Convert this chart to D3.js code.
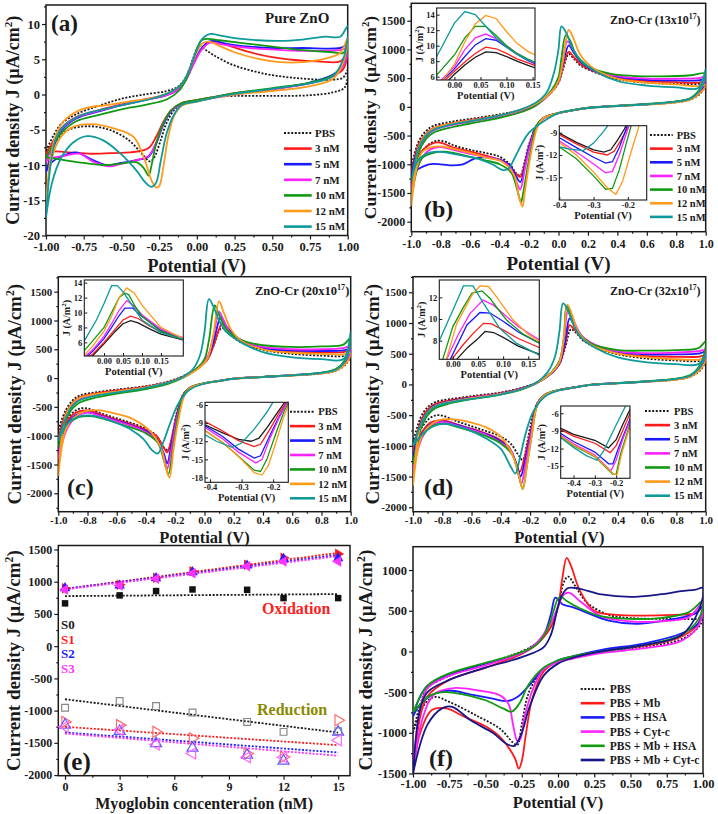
<!DOCTYPE html>
<html><head><meta charset="utf-8">
<script src="https://cdn.jsdelivr.net/npm/d3@7"></script>
<style>
body{margin:0;background:#fff;}
svg text{font-family:"Liberation Serif","Times New Roman",serif;font-weight:bold;fill:#1a1a1a;}
</style></head><body>
<svg id="chart" width="718" height="814"></svg>
<script>
// ---------------- DATA ----------------
const concNames = ["PBS","3 nM","5 nM","7 nM","10 nM","12 nM","15 nM"];
const fNames = ["PBS","PBS + Mb","PBS + HSA","PBS + Cyt-c","PBS + Mb + HSA","PBS + Mb + Cyt-c"];

// tick values
const aXTicks=[-1,-0.75,-0.5,-0.25,0,0.25,0.5,0.75,1];
const aYTicks=[-20,-15,-10,-5,0,5,10];
const cvXTicks=[-1,-0.8,-0.6,-0.4,-0.2,0,0.2,0.4,0.6,0.8,1];
const cvYTicks=[-2000,-1500,-1000,-500,0,500,1000,1500];
const eXTicks=[0,3,6,9,12,15];
const fYTicks=[-1500,-1000,-500,0,500,1000];
const insTopX=[0,0.05,0.1,0.15];
const insBotX=[-0.4,-0.3,-0.2];

// Panel (a): Pure ZnO, closed CV loops [potential V, J uA/cm2]
const aLoops=[
[[-1,-8],[-0.95,-5.8],[-0.9,-4.2],[-0.8,-2.8],[-0.65,-1.6],[-0.5,-0.6],[-0.35,0],[-0.2,0.5],[-0.12,1.2],[-0.07,2.6],[-0.03,4.8],[0,6.5],[0.02,6.9],[0.06,6.3],[0.11,5.6],[0.24,4.2],[0.46,2.9],[0.68,2.3],[0.9,2.1],[0.97,2.4],[1,3.5],[0.98,1.0],[0.9,0.3],[0.75,-0.1],[0.5,-0.2],[0.25,-0.2],[0.1,-0.4],[0,-0.8],[-0.1,-1.3],[-0.15,-2.2],[-0.2,-4],[-0.24,-6.5],[-0.28,-8.8],[-0.31,-9.5],[-0.36,-8.5],[-0.45,-6.5],[-0.58,-5],[-0.72,-4.5],[-0.85,-5],[-0.93,-6.5],[-1,-8]],
[[-1,-8.5],[-0.95,-6.5],[-0.9,-4.8],[-0.8,-3.2],[-0.65,-2.2],[-0.5,-1.4],[-0.35,-0.7],[-0.2,0],[-0.12,0.8],[-0.07,2.2],[-0.02,4.5],[0.03,6.5],[0.08,7.4],[0.12,7.5],[0.2,7],[0.35,6],[0.5,5.3],[0.65,4.9],[0.8,4.7],[0.95,4.7],[1,6],[0.97,3.6],[0.9,2.6],[0.75,1.6],[0.5,0.8],[0.25,0.2],[0.1,-0.4],[0,-0.8],[-0.1,-1.2],[-0.17,-2.2],[-0.22,-3.8],[-0.27,-6],[-0.32,-7.6],[-0.4,-8.1],[-0.55,-8.3],[-0.7,-8.4],[-0.85,-8.2],[-0.95,-8.1],[-1,-8.5]],
[[-1,-11],[-0.95,-7.5],[-0.9,-5.2],[-0.8,-3.4],[-0.65,-2.4],[-0.5,-1.5],[-0.35,-0.8],[-0.2,-0.1],[-0.12,0.8],[-0.07,2.2],[-0.02,4.5],[0.03,6.5],[0.08,7.5],[0.12,7.6],[0.2,7.2],[0.35,6.8],[0.5,6.6],[0.7,6.6],[0.95,6.6],[1,7],[0.97,4.2],[0.9,2.8],[0.75,1.7],[0.5,0.8],[0.25,0.1],[0.1,-0.5],[0,-0.9],[-0.1,-1.3],[-0.17,-2.4],[-0.22,-4.2],[-0.27,-7],[-0.32,-8.8],[-0.4,-9.3],[-0.5,-9.7],[-0.6,-10],[-0.7,-9.2],[-0.8,-8.2],[-0.9,-8.8],[-0.97,-9.8],[-1,-11]],
[[-1,-9.5],[-0.95,-7],[-0.9,-5],[-0.8,-3.3],[-0.65,-2.3],[-0.5,-1.5],[-0.35,-0.8],[-0.2,-0.1],[-0.12,0.8],[-0.07,2.2],[-0.02,4.4],[0.03,6.3],[0.08,7.3],[0.12,7.3],[0.2,7],[0.35,6.6],[0.5,6.4],[0.7,6.2],[0.95,6.3],[1,6.6],[0.97,4],[0.9,2.6],[0.75,1.6],[0.5,0.7],[0.25,0],[0.1,-0.5],[0,-0.9],[-0.1,-1.3],[-0.17,-2.3],[-0.22,-4],[-0.27,-6.8],[-0.32,-8.7],[-0.4,-9.3],[-0.5,-9.8],[-0.58,-10.2],[-0.68,-9.6],[-0.78,-8.4],[-0.88,-8.7],[-0.96,-9],[-1,-9.5]],
[[-1,-9],[-0.95,-7],[-0.9,-5.5],[-0.8,-3.8],[-0.65,-2.9],[-0.5,-2.1],[-0.35,-1.5],[-0.2,-0.7],[-0.12,0.5],[-0.07,2.2],[-0.03,4.5],[0,6.5],[0.03,7.7],[0.07,7.9],[0.15,7.7],[0.3,7.3],[0.5,6.8],[0.7,6.3],[0.9,6],[0.97,5.9],[1,7],[0.97,4.5],[0.9,2.7],[0.75,1.7],[0.5,0.9],[0.25,0.2],[0.1,-0.4],[0,-0.8],[-0.1,-1.2],[-0.17,-2.2],[-0.22,-4],[-0.27,-7],[-0.3,-10],[-0.32,-11.5],[-0.35,-10.5],[-0.4,-9.6],[-0.5,-9.8],[-0.62,-10],[-0.75,-9.7],[-0.88,-9.3],[-0.97,-9],[-1,-9]],
[[-1,-15.8],[-0.97,-9],[-0.93,-5.5],[-0.87,-3.5],[-0.75,-2],[-0.6,-1.5],[-0.45,-1],[-0.3,-0.5],[-0.18,0.3],[-0.1,1.5],[-0.05,3.5],[0,6],[0.04,7.3],[0.08,7.5],[0.15,6.9],[0.25,6],[0.4,5.1],[0.55,4.6],[0.7,4.6],[0.85,5.1],[0.95,5.9],[1,8],[0.97,4.5],[0.9,2.2],[0.75,1.2],[0.5,0.5],[0.25,0],[0.1,-0.5],[0,-1],[-0.1,-1.6],[-0.15,-3],[-0.19,-6],[-0.22,-10],[-0.25,-13],[-0.27,-13.2],[-0.3,-12.2],[-0.35,-9],[-0.42,-6],[-0.55,-4.8],[-0.7,-4.2],[-0.82,-4.6],[-0.9,-6],[-0.96,-9],[-1,-15.8]],
[[-1,-17.5],[-0.97,-10],[-0.93,-6],[-0.87,-4.2],[-0.75,-2.8],[-0.6,-2],[-0.45,-1.3],[-0.3,-0.6],[-0.18,0.3],[-0.1,1.5],[-0.05,3.5],[0,6.3],[0.04,8],[0.09,8.6],[0.15,8.4],[0.25,8],[0.4,7.7],[0.55,7.6],[0.7,7.8],[0.85,8.2],[0.95,8.2],[1,9.7],[0.97,5],[0.9,2.6],[0.75,1.6],[0.5,0.8],[0.25,0.1],[0.1,-0.5],[0,-1],[-0.1,-1.5],[-0.15,-2.8],[-0.2,-5.5],[-0.24,-9.5],[-0.27,-12.5],[-0.3,-13.1],[-0.34,-12.5],[-0.4,-10.8],[-0.5,-8.5],[-0.62,-6.5],[-0.73,-5.9],[-0.82,-6.8],[-0.9,-9],[-0.96,-12.5],[-1,-17.5]]
];

// Panel (b): ZnO-Cr 13x10^17
const bLoops=[
[[-1,-1050],[-0.95,-600],[-0.9,-420],[-0.85,-330],[-0.75,-270],[-0.6,-210],[-0.4,-130],[-0.25,-50],[-0.15,50],[-0.05,250],[0,420],[0.03,650],[0.07,920],[0.1,850],[0.15,720],[0.25,600],[0.4,480],[0.6,420],[0.8,400],[0.95,400],[1,420],[0.97,250],[0.9,130],[0.8,80],[0.6,40],[0.4,15],[0.2,-20],[0.1,-60],[0,-110],[-0.1,-190],[-0.15,-330],[-0.2,-650],[-0.23,-950],[-0.26,-1200],[-0.29,-1150],[-0.33,-1000],[-0.4,-870],[-0.5,-800],[-0.6,-750],[-0.7,-680],[-0.8,-590],[-0.86,-620],[-0.92,-750],[-1,-1050]],
[[-1,-1150],[-0.95,-650],[-0.9,-470],[-0.85,-370],[-0.75,-300],[-0.6,-230],[-0.4,-150],[-0.25,-60],[-0.15,40],[-0.05,250],[0,430],[0.03,700],[0.07,960],[0.1,880],[0.15,740],[0.25,610],[0.4,500],[0.6,450],[0.8,430],[0.95,420],[1,450],[0.97,280],[0.9,140],[0.8,85],[0.6,45],[0.4,18],[0.2,-18],[0.1,-58],[0,-108],[-0.1,-190],[-0.15,-330],[-0.2,-680],[-0.23,-1000],[-0.26,-1220],[-0.3,-1130],[-0.35,-980],[-0.45,-880],[-0.55,-810],[-0.7,-720],[-0.82,-620],[-0.9,-700],[-0.95,-850],[-1,-1150]],
[[-1,-1200],[-0.95,-700],[-0.9,-490],[-0.85,-390],[-0.75,-310],[-0.6,-240],[-0.4,-160],[-0.25,-70],[-0.15,40],[-0.05,260],[0,450],[0.03,750],[0.07,1070],[0.1,960],[0.15,780],[0.25,620],[0.4,520],[0.6,470],[0.8,460],[0.95,460],[1,480],[0.97,300],[0.9,150],[0.8,90],[0.6,45],[0.4,18],[0.2,-18],[0.1,-58],[0,-110],[-0.1,-195],[-0.15,-340],[-0.2,-700],[-0.23,-1050],[-0.26,-1310],[-0.29,-1200],[-0.33,-1020],[-0.4,-920],[-0.5,-880],[-0.57,-900],[-0.65,-1000],[-0.72,-1020],[-0.8,-1000],[-0.88,-1000],[-0.95,-1080],[-1,-1200]],
[[-1,-1450],[-0.95,-750],[-0.9,-520],[-0.85,-410],[-0.75,-330],[-0.6,-260],[-0.4,-170],[-0.25,-80],[-0.15,30],[-0.05,250],[0,460],[0.03,800],[0.06,1140],[0.1,1000],[0.15,800],[0.25,640],[0.4,540],[0.6,490],[0.8,490],[0.95,500],[1,520],[0.97,320],[0.9,150],[0.8,90],[0.6,45],[0.4,18],[0.2,-18],[0.1,-58],[0,-110],[-0.1,-200],[-0.15,-350],[-0.2,-750],[-0.23,-1100],[-0.26,-1440],[-0.29,-1280],[-0.33,-1050],[-0.4,-930],[-0.5,-870],[-0.6,-820],[-0.7,-760],[-0.8,-700],[-0.87,-740],[-0.93,-900],[-1,-1450]],
[[-1,-1600],[-0.95,-800],[-0.9,-560],[-0.85,-450],[-0.75,-370],[-0.6,-290],[-0.4,-190],[-0.25,-90],[-0.15,30],[-0.05,280],[0,520],[0.02,850],[0.05,1250],[0.08,1150],[0.12,900],[0.2,700],[0.35,580],[0.5,540],[0.7,530],[0.9,550],[1,580],[0.97,350],[0.9,160],[0.8,95],[0.6,50],[0.4,20],[0.2,-15],[0.1,-55],[0,-105],[-0.1,-190],[-0.15,-330],[-0.18,-650],[-0.21,-1050],[-0.24,-1500],[-0.255,-1660],[-0.28,-1450],[-0.32,-1150],[-0.4,-1000],[-0.5,-930],[-0.6,-870],[-0.7,-810],[-0.78,-780],[-0.85,-800],[-0.93,-900],[-1,-1600]],
[[-1,-1720],[-0.95,-700],[-0.9,-480],[-0.85,-380],[-0.75,-300],[-0.6,-240],[-0.4,-150],[-0.25,-50],[-0.15,60],[-0.05,250],[0,450],[0.03,800],[0.07,1340],[0.1,1200],[0.15,900],[0.25,650],[0.4,490],[0.6,420],[0.8,390],[0.95,360],[1,380],[0.97,260],[0.9,130],[0.8,80],[0.6,40],[0.4,15],[0.2,-20],[0.1,-60],[0,-110],[-0.1,-190],[-0.14,-330],[-0.17,-600],[-0.2,-1000],[-0.23,-1500],[-0.245,-1740],[-0.27,-1550],[-0.3,-1200],[-0.38,-960],[-0.5,-880],[-0.6,-800],[-0.7,-740],[-0.8,-690],[-0.86,-700],[-0.93,-800],[-1,-1720]],
[[-1,-1300],[-0.95,-720],[-0.9,-500],[-0.85,-400],[-0.75,-320],[-0.6,-250],[-0.4,-150],[-0.25,-40],[-0.15,80],[-0.08,250],[-0.03,600],[0,1000],[0.02,1400],[0.05,1300],[0.1,1000],[0.15,820],[0.25,620],[0.4,450],[0.6,370],[0.8,340],[0.95,330],[1,650],[0.97,330],[0.9,150],[0.8,90],[0.6,45],[0.4,15],[0.2,-20],[0.1,-60],[0,-110],[-0.1,-250],[-0.2,-450],[-0.25,-650],[-0.3,-900],[-0.34,-1080],[-0.38,-1100],[-0.45,-1000],[-0.55,-900],[-0.65,-850],[-0.75,-800],[-0.83,-780],[-0.9,-820],[-0.96,-950],[-1,-1300]]
];

// Panel (c): ZnO-Cr 20x10^17
const cLoops=[
[[-1,-900],[-0.95,-560],[-0.9,-380],[-0.85,-300],[-0.75,-250],[-0.6,-200],[-0.4,-140],[-0.25,-60],[-0.15,30],[-0.05,170],[0.02,330],[0.06,550],[0.1,820],[0.12,870],[0.16,780],[0.25,620],[0.4,490],[0.6,420],[0.8,390],[0.95,380],[1,420],[0.97,250],[0.9,130],[0.8,80],[0.6,45],[0.4,20],[0.2,-10],[0.1,-50],[0,-90],[-0.1,-170],[-0.15,-300],[-0.19,-600],[-0.22,-1000],[-0.25,-1250],[-0.28,-1200],[-0.33,-1000],[-0.4,-880],[-0.5,-780],[-0.6,-700],[-0.7,-620],[-0.82,-520],[-0.88,-560],[-0.94,-700],[-1,-900]],
[[-1,-1050],[-0.95,-620],[-0.9,-420],[-0.85,-330],[-0.75,-270],[-0.6,-215],[-0.4,-150],[-0.25,-70],[-0.15,20],[-0.05,160],[0.02,320],[0.06,550],[0.1,850],[0.12,950],[0.16,830],[0.25,640],[0.4,510],[0.6,460],[0.8,450],[0.95,450],[1,480],[0.97,280],[0.9,140],[0.8,85],[0.6,48],[0.4,20],[0.2,-10],[0.1,-50],[0,-90],[-0.1,-170],[-0.15,-310],[-0.2,-750],[-0.23,-1100],[-0.255,-1290],[-0.28,-1200],[-0.33,-1000],[-0.4,-900],[-0.5,-800],[-0.6,-720],[-0.7,-640],[-0.8,-560],[-0.88,-600],[-0.94,-750],[-1,-1050]],
[[-1,-1250],[-0.95,-680],[-0.9,-460],[-0.85,-360],[-0.75,-290],[-0.6,-230],[-0.4,-160],[-0.25,-80],[-0.15,10],[-0.05,160],[0.02,340],[0.06,620],[0.1,1000],[0.115,1060],[0.15,900],[0.25,660],[0.4,520],[0.6,480],[0.8,470],[0.95,480],[1,510],[0.97,300],[0.9,145],[0.8,88],[0.6,50],[0.4,20],[0.2,-10],[0.1,-50],[0,-90],[-0.1,-170],[-0.15,-320],[-0.2,-800],[-0.23,-1200],[-0.255,-1480],[-0.28,-1300],[-0.33,-1050],[-0.4,-920],[-0.5,-820],[-0.6,-740],[-0.7,-660],[-0.8,-590],[-0.88,-640],[-0.94,-800],[-1,-1250]],
[[-1,-1400],[-0.95,-720],[-0.9,-480],[-0.85,-370],[-0.75,-300],[-0.6,-240],[-0.4,-165],[-0.25,-85],[-0.15,10],[-0.05,170],[0.02,370],[0.06,720],[0.1,1150],[0.13,1000],[0.18,780],[0.25,660],[0.4,540],[0.6,500],[0.8,500],[0.95,520],[1,550],[0.97,320],[0.9,150],[0.8,90],[0.6,50],[0.4,20],[0.2,-10],[0.1,-50],[0,-90],[-0.1,-170],[-0.15,-330],[-0.2,-850],[-0.23,-1300],[-0.255,-1570],[-0.28,-1350],[-0.33,-1070],[-0.4,-940],[-0.5,-830],[-0.6,-750],[-0.7,-670],[-0.8,-600],[-0.88,-680],[-0.94,-880],[-1,-1400]],
[[-1,-1200],[-0.95,-740],[-0.9,-520],[-0.85,-420],[-0.75,-340],[-0.6,-270],[-0.4,-190],[-0.25,-100],[-0.15,0],[-0.05,170],[0,330],[0.03,650],[0.07,1260],[0.1,1100],[0.15,850],[0.25,660],[0.4,570],[0.6,540],[0.8,550],[0.95,580],[1,700],[0.97,360],[0.9,160],[0.8,95],[0.6,52],[0.4,22],[0.2,-8],[0.1,-48],[0,-88],[-0.1,-170],[-0.15,-330],[-0.19,-800],[-0.22,-1300],[-0.247,-1670],[-0.275,-1450],[-0.32,-1120],[-0.4,-960],[-0.5,-860],[-0.6,-780],[-0.7,-700],[-0.78,-660],[-0.86,-680],[-0.94,-820],[-1,-1200]],
[[-1,-1700],[-0.95,-650],[-0.9,-430],[-0.85,-340],[-0.75,-280],[-0.6,-230],[-0.4,-160],[-0.25,-80],[-0.15,10],[-0.05,150],[0.02,340],[0.06,750],[0.1,1330],[0.13,1150],[0.18,850],[0.25,650],[0.4,500],[0.6,440],[0.8,420],[0.95,410],[1,430],[0.97,260],[0.9,130],[0.8,80],[0.6,45],[0.4,18],[0.2,-12],[0.1,-52],[0,-92],[-0.1,-170],[-0.14,-320],[-0.18,-750],[-0.21,-1200],[-0.24,-1730],[-0.265,-1550],[-0.3,-1200],[-0.38,-900],[-0.5,-700],[-0.6,-620],[-0.72,-560],[-0.82,-580],[-0.9,-700],[-0.95,-900],[-1,-1700]],
[[-1,-1100],[-0.95,-700],[-0.9,-470],[-0.85,-380],[-0.75,-310],[-0.6,-250],[-0.4,-170],[-0.25,-80],[-0.15,20],[-0.08,150],[-0.03,400],[0,800],[0.03,1370],[0.06,1250],[0.1,1000],[0.15,800],[0.25,620],[0.4,450],[0.6,360],[0.8,330],[0.95,330],[1,800],[0.97,330],[0.9,150],[0.8,90],[0.6,48],[0.4,18],[0.2,-12],[0.1,-52],[0,-95],[-0.1,-200],[-0.18,-450],[-0.23,-750],[-0.28,-1100],[-0.32,-1310],[-0.36,-1250],[-0.42,-1050],[-0.5,-900],[-0.6,-780],[-0.7,-690],[-0.78,-650],[-0.86,-670],[-0.94,-800],[-1,-1100]]
];

// Panel (d): ZnO-Cr 32x10^17
const dLoops=[
[[-1,-950],[-0.95,-550],[-0.9,-370],[-0.85,-290],[-0.75,-240],[-0.6,-190],[-0.4,-130],[-0.25,-50],[-0.15,40],[-0.05,200],[0,330],[0.04,600],[0.08,900],[0.11,850],[0.16,720],[0.25,600],[0.4,490],[0.6,420],[0.8,390],[0.95,380],[1,420],[0.97,250],[0.9,130],[0.8,80],[0.6,45],[0.4,20],[0.2,-10],[0.1,-50],[0,-90],[-0.1,-170],[-0.15,-300],[-0.19,-600],[-0.22,-950],[-0.25,-1230],[-0.28,-1150],[-0.33,-970],[-0.4,-850],[-0.5,-760],[-0.6,-680],[-0.7,-600],[-0.82,-500],[-0.88,-540],[-0.94,-700],[-1,-950]],
[[-1,-1100],[-0.95,-620],[-0.9,-410],[-0.85,-320],[-0.75,-260],[-0.6,-205],[-0.4,-140],[-0.25,-60],[-0.15,30],[-0.05,190],[0,330],[0.04,640],[0.07,965],[0.1,900],[0.16,740],[0.25,610],[0.4,510],[0.6,460],[0.8,450],[0.95,450],[1,470],[0.97,280],[0.9,140],[0.8,85],[0.6,48],[0.4,20],[0.2,-10],[0.1,-50],[0,-90],[-0.1,-170],[-0.15,-310],[-0.2,-800],[-0.24,-1200],[-0.27,-1420],[-0.3,-1250],[-0.35,-1000],[-0.42,-880],[-0.5,-800],[-0.6,-720],[-0.7,-650],[-0.8,-580],[-0.88,-620],[-0.94,-780],[-1,-1100]],
[[-1,-1200],[-0.95,-660],[-0.9,-440],[-0.85,-340],[-0.75,-275],[-0.6,-215],[-0.4,-150],[-0.25,-65],[-0.15,30],[-0.05,190],[0,340],[0.04,700],[0.07,1075],[0.1,980],[0.16,770],[0.25,630],[0.4,530],[0.6,490],[0.8,490],[0.95,500],[1,530],[0.97,300],[0.9,145],[0.8,88],[0.6,50],[0.4,20],[0.2,-10],[0.1,-50],[0,-90],[-0.1,-170],[-0.15,-320],[-0.2,-850],[-0.24,-1300],[-0.265,-1500],[-0.29,-1320],[-0.34,-1050],[-0.42,-900],[-0.5,-810],[-0.6,-730],[-0.7,-660],[-0.8,-600],[-0.88,-650],[-0.94,-820],[-1,-1200]],
[[-1,-1400],[-0.95,-700],[-0.9,-470],[-0.85,-360],[-0.75,-290],[-0.6,-225],[-0.4,-155],[-0.25,-70],[-0.15,30],[-0.05,200],[0,360],[0.03,700],[0.06,1210],[0.09,1080],[0.15,800],[0.25,640],[0.4,540],[0.6,510],[0.8,520],[0.95,540],[1,560],[0.97,320],[0.9,150],[0.8,90],[0.6,50],[0.4,20],[0.2,-10],[0.1,-50],[0,-90],[-0.1,-170],[-0.15,-330],[-0.2,-900],[-0.235,-1350],[-0.26,-1620],[-0.285,-1400],[-0.33,-1080],[-0.42,-920],[-0.5,-820],[-0.6,-740],[-0.7,-670],[-0.8,-610],[-0.88,-680],[-0.94,-880],[-1,-1400]],
[[-1,-1300],[-0.95,-750],[-0.9,-500],[-0.85,-390],[-0.75,-310],[-0.6,-240],[-0.4,-165],[-0.25,-75],[-0.15,30],[-0.05,210],[0,380],[0.03,750],[0.05,1280],[0.08,1150],[0.13,850],[0.22,660],[0.4,560],[0.6,550],[0.8,560],[0.95,590],[1,700],[0.97,360],[0.9,160],[0.8,95],[0.6,52],[0.4,22],[0.2,-8],[0.1,-48],[0,-88],[-0.1,-170],[-0.15,-330],[-0.19,-850],[-0.22,-1300],[-0.25,-1700],[-0.275,-1500],[-0.32,-1150],[-0.4,-960],[-0.5,-840],[-0.6,-760],[-0.7,-690],[-0.78,-640],[-0.86,-670],[-0.94,-850],[-1,-1300]],
[[-1,-1650],[-0.95,-680],[-0.9,-450],[-0.85,-350],[-0.75,-285],[-0.6,-225],[-0.4,-155],[-0.25,-70],[-0.15,30],[-0.05,200],[0,360],[0.03,750],[0.055,1300],[0.085,1150],[0.13,850],[0.22,640],[0.4,500],[0.6,440],[0.8,410],[0.95,400],[1,420],[0.97,260],[0.9,130],[0.8,80],[0.6,45],[0.4,18],[0.2,-12],[0.1,-52],[0,-92],[-0.1,-170],[-0.15,-330],[-0.19,-850],[-0.22,-1300],[-0.25,-1700],[-0.275,-1500],[-0.32,-1150],[-0.4,-850],[-0.5,-700],[-0.6,-620],[-0.72,-570],[-0.82,-580],[-0.9,-700],[-0.95,-900],[-1,-1650]],
[[-1,-1000],[-0.95,-680],[-0.9,-460],[-0.85,-360],[-0.75,-295],[-0.6,-235],[-0.4,-160],[-0.25,-70],[-0.15,40],[-0.08,200],[-0.03,450],[0,850],[0.025,1318],[0.05,1250],[0.1,950],[0.15,760],[0.25,590],[0.4,440],[0.6,360],[0.8,330],[0.95,330],[1,500],[0.97,320],[0.9,150],[0.8,90],[0.6,48],[0.4,18],[0.2,-12],[0.1,-52],[0,-95],[-0.1,-200],[-0.18,-450],[-0.23,-800],[-0.27,-1200],[-0.3,-1450],[-0.33,-1350],[-0.4,-1050],[-0.5,-880],[-0.6,-760],[-0.7,-680],[-0.78,-640],[-0.86,-680],[-0.94,-820],[-1,-1000]]
];

// Panel (f): selectivity
const fLoops=[
[[-1,-1000],[-0.95,-650],[-0.9,-450],[-0.75,-300],[-0.5,-150],[-0.25,0],[-0.15,100],[-0.05,300],[0,550],[0.04,850],[0.07,920],[0.12,800],[0.2,600],[0.35,450],[0.5,410],[0.75,400],[0.95,400],[1,420],[0.97,300],[0.85,150],[0.6,60],[0.3,0],[0.1,-80],[0,-120],[-0.1,-220],[-0.2,-500],[-0.25,-900],[-0.28,-1150],[-0.31,-1120],[-0.4,-950],[-0.55,-800],[-0.75,-620],[-0.85,-560],[-0.92,-650],[-1,-1000]],
[[-1,-1500],[-0.95,-800],[-0.9,-550],[-0.75,-350],[-0.5,-200],[-0.25,-30],[-0.15,80],[-0.05,300],[0,550],[0.03,900],[0.06,1150],[0.09,1050],[0.15,750],[0.25,500],[0.4,450],[0.6,440],[0.8,450],[0.95,470],[1,550],[0.97,350],[0.85,180],[0.6,70],[0.3,10],[0.1,-70],[0,-120],[-0.1,-250],[-0.18,-600],[-0.22,-1000],[-0.25,-1350],[-0.27,-1440],[-0.3,-1300],[-0.4,-1050],[-0.5,-920],[-0.65,-800],[-0.77,-700],[-0.87,-720],[-0.95,-1000],[-1,-1500]],
[[-1,-800],[-0.95,-550],[-0.9,-420],[-0.75,-280],[-0.5,-150],[-0.3,-50],[-0.2,30],[-0.1,200],[-0.05,450],[-0.02,660],[0,640],[0.03,580],[0.1,545],[0.18,490],[0.35,380],[0.55,340],[0.8,400],[0.95,470],[1,560],[0.97,350],[0.85,220],[0.6,100],[0.3,20],[0.1,-60],[0,-110],[-0.1,-220],[-0.2,-420],[-0.28,-560],[-0.35,-610],[-0.45,-580],[-0.6,-530],[-0.75,-480],[-0.85,-520],[-0.95,-650],[-1,-800]],
[[-1,-1500],[-0.95,-700],[-0.9,-450],[-0.75,-300],[-0.5,-170],[-0.25,-20],[-0.15,100],[-0.05,350],[0,550],[0.04,700],[0.08,720],[0.15,620],[0.3,430],[0.5,370],[0.7,370],[0.9,420],[1,600],[0.97,320],[0.85,130],[0.6,40],[0.3,-20],[0.1,-90],[0,-130],[-0.1,-220],[-0.17,-450],[-0.23,-800],[-0.26,-1080],[-0.28,-1100],[-0.31,-900],[-0.34,-650],[-0.4,-540],[-0.55,-480],[-0.72,-450],[-0.85,-520],[-0.93,-800],[-1,-1500]],
[[-1,-750],[-0.9,-420],[-0.75,-270],[-0.5,-140],[-0.3,-40],[-0.15,80],[-0.08,250],[-0.03,500],[0,650],[0.02,670],[0.06,620],[0.15,530],[0.3,430],[0.5,400],[0.7,410],[0.9,480],[1,620],[0.97,400],[0.85,200],[0.6,80],[0.3,0],[0.1,-60],[0,-110],[-0.1,-200],[-0.2,-400],[-0.27,-650],[-0.32,-740],[-0.38,-700],[-0.5,-600],[-0.65,-530],[-0.78,-500],[-0.88,-540],[-0.95,-650],[-1,-750]],
[[-1,-1500],[-0.95,-700],[-0.9,-500],[-0.75,-350],[-0.5,-200],[-0.25,-70],[-0.1,50],[-0.05,200],[0,550],[0.03,700],[0.07,780],[0.15,770],[0.3,700],[0.5,670],[0.7,700],[0.85,740],[0.95,760],[1,780],[0.97,500],[0.85,200],[0.6,80],[0.3,0],[0.1,-80],[0,-150],[-0.1,-300],[-0.2,-700],[-0.25,-1000],[-0.3,-1160],[-0.35,-1140],[-0.45,-1000],[-0.6,-850],[-0.73,-680],[-0.8,-700],[-0.9,-900],[-1,-1500]]
];

// Insets (A/m2)
const bInsTop=[
[[-0.034,4.0],[0,6.3],[0.02,7.5],[0.04,8.5],[0.06,9.2],[0.08,9.1],[0.1,8.6],[0.12,8.0],[0.14,7.5],[0.16,7.0]],
[[-0.034,4.5],[0,6.7],[0.02,7.9],[0.04,9.0],[0.06,9.8],[0.08,9.6],[0.1,9.0],[0.12,8.3],[0.14,7.8],[0.16,7.3]],
[[-0.034,4.8],[0,7.0],[0.02,8.6],[0.04,10.1],[0.06,10.9],[0.08,10.7],[0.1,9.8],[0.12,8.9],[0.14,8.1],[0.16,7.5]],
[[-0.034,5.0],[0,7.3],[0.02,9.5],[0.04,11.0],[0.06,11.5],[0.08,10.9],[0.1,10.0],[0.12,9.0],[0.14,8.2],[0.16,7.6]],
[[-0.034,6.2],[0,8.8],[0.02,11.0],[0.04,12.5],[0.06,12.5],[0.08,11.3],[0.1,10.0],[0.12,9.0],[0.14,8.3],[0.16,7.7]],
[[-0.034,4.5],[0,7.6],[0.02,10.5],[0.04,12.8],[0.06,13.9],[0.08,13.5],[0.1,11.8],[0.12,10.3],[0.14,9.3],[0.16,8.6]],
[[-0.034,8.6],[0,12.9],[0.02,14.4],[0.04,14.0],[0.06,12.5],[0.08,11.0],[0.1,9.8],[0.12,8.9],[0.14,8.2],[0.16,7.7]]
];
const bInsBot=[
[[-0.41,-8.8],[-0.35,-10.3],[-0.3,-11.3],[-0.27,-11.6],[-0.25,-11.3],[-0.23,-10.0],[-0.21,-8.5],[-0.19,-6.5]],
[[-0.41,-9.0],[-0.35,-10.5],[-0.3,-11.6],[-0.26,-12.0],[-0.24,-11.5],[-0.22,-10.0],[-0.2,-8.3],[-0.18,-6.5]],
[[-0.41,-9.4],[-0.35,-11.0],[-0.3,-12.3],[-0.265,-13.1],[-0.245,-12.9],[-0.225,-11.0],[-0.205,-8.5],[-0.19,-6.5]],
[[-0.41,-9.8],[-0.35,-11.6],[-0.3,-13.2],[-0.265,-14.4],[-0.245,-14.2],[-0.225,-12.0],[-0.2,-8.5],[-0.185,-6.5]],
[[-0.41,-10.6],[-0.35,-12.5],[-0.3,-14.8],[-0.265,-16.6],[-0.245,-16.5],[-0.225,-14.0],[-0.205,-10.5],[-0.19,-8.0],[-0.18,-6.5]],
[[-0.41,-10.0],[-0.35,-12.0],[-0.3,-14.3],[-0.26,-16.4],[-0.235,-17.3],[-0.215,-15.5],[-0.19,-11.5],[-0.17,-8.5],[-0.16,-6.5]],
[[-0.41,-10.8],[-0.37,-11.2],[-0.33,-11.4],[-0.3,-10.4],[-0.27,-8.8],[-0.25,-7.5]]
];
const cInsTop=[
[[-0.052,3.5],[-0.03,4.2],[0,5.8],[0.03,7.5],[0.05,8.5],[0.07,8.9],[0.09,8.6],[0.12,7.8],[0.15,7.1],[0.18,6.7],[0.21,6.3]],
[[-0.052,3.8],[-0.03,4.4],[0,6.0],[0.03,7.8],[0.05,9.0],[0.07,9.5],[0.09,9.2],[0.12,8.2],[0.15,7.4],[0.18,6.8],[0.21,6.4]],
[[-0.052,3.8],[-0.03,4.8],[0,6.5],[0.02,8.0],[0.04,9.6],[0.055,10.6],[0.075,10.6],[0.1,9.5],[0.15,7.6],[0.18,7.0],[0.21,6.5]],
[[-0.052,4.0],[-0.03,5.0],[0,6.8],[0.02,8.5],[0.04,10.3],[0.06,11.6],[0.08,10.8],[0.1,9.7],[0.15,7.8],[0.18,7.1],[0.21,6.6]],
[[-0.052,4.9],[-0.03,6.2],[0,8.0],[0.02,10.0],[0.04,12.0],[0.055,12.6],[0.065,12.4],[0.08,11.0],[0.1,9.5],[0.15,7.5],[0.18,6.9],[0.21,6.4]],
[[-0.052,4.3],[-0.03,5.5],[0,7.5],[0.02,9.5],[0.04,12.0],[0.06,13.3],[0.08,12.6],[0.1,11.0],[0.15,8.0],[0.18,7.2],[0.21,6.5]],
[[-0.052,6.2],[-0.02,9.0],[0,11.2],[0.02,13.6],[0.035,13.6],[0.05,12.8],[0.07,11.3],[0.1,9.0],[0.15,7.3],[0.18,6.8],[0.21,6.4]]
];
const cInsBot=[
[[-0.42,-9.2],[-0.36,-10.6],[-0.31,-11.7],[-0.27,-12.0],[-0.245,-11.5],[-0.22,-9.8],[-0.19,-7.5],[-0.16,-5.3]],
[[-0.42,-8.6],[-0.36,-10.3],[-0.31,-11.9],[-0.26,-12.9],[-0.24,-12.5],[-0.21,-10.0],[-0.18,-7.2],[-0.155,-5.3]],
[[-0.42,-9.3],[-0.36,-11.2],[-0.31,-13.3],[-0.26,-14.8],[-0.24,-14.4],[-0.21,-11.0],[-0.18,-7.8],[-0.155,-5.5]],
[[-0.42,-9.6],[-0.36,-11.6],[-0.31,-13.8],[-0.255,-15.6],[-0.235,-15.0],[-0.21,-11.5],[-0.18,-8.0],[-0.155,-5.5]],
[[-0.42,-10.1],[-0.36,-12.2],[-0.31,-14.5],[-0.26,-16.8],[-0.24,-17.0],[-0.22,-15.0],[-0.19,-10.5],[-0.165,-7.0],[-0.15,-5.5]],
[[-0.42,-10.1],[-0.36,-12.2],[-0.31,-14.5],[-0.26,-17.2],[-0.235,-17.6],[-0.215,-16.0],[-0.19,-12.0],[-0.17,-8.5],[-0.152,-6.0]],
[[-0.42,-10.8],[-0.38,-12.0],[-0.33,-13.0],[-0.3,-12.3],[-0.26,-10.0],[-0.22,-7.2],[-0.2,-5.5]]
];
const dInsTop=[
[[-0.03,4.0],[0.008,6.3],[0.03,7.4],[0.048,8.1],[0.064,8.85],[0.081,8.75],[0.1,8.3],[0.13,7.5],[0.175,6.7]],
[[-0.03,4.5],[-0.002,6.3],[0.02,7.6],[0.041,8.7],[0.061,9.6],[0.077,9.55],[0.1,9.0],[0.13,8.2],[0.175,7.3]],
[[-0.03,4.8],[-0.005,6.3],[0.028,9.45],[0.054,10.6],[0.074,10.55],[0.1,9.8],[0.13,8.8],[0.175,7.7]],
[[-0.03,4.5],[-0.012,6.3],[0.01,8.5],[0.034,10.5],[0.06,11.75],[0.08,11.3],[0.1,10.5],[0.13,9.3],[0.175,8.0]],
[[-0.03,5.0],[-0.02,6.3],[0,9.3],[0.02,11.0],[0.038,12.4],[0.058,12.6],[0.074,11.9],[0.09,10.9],[0.107,9.9],[0.14,8.6],[0.175,7.7]],
[[-0.03,4.5],[-0.013,6.3],[0.008,9.6],[0.038,12.2],[0.054,13.05],[0.071,13.0],[0.087,12.05],[0.12,9.9],[0.15,8.6],[0.175,7.8]],
[[-0.03,7.7],[-0.027,8.0],[0,10.8],[0.021,13.05],[0.04,13.05],[0.061,11.45],[0.094,9.1],[0.127,7.75],[0.175,6.6]]
];
const dInsBot=[
[[-0.47,-8.4],[-0.4,-9.6],[-0.3,-10.6],[-0.236,-11.9],[-0.2,-10.5],[-0.17,-8.0],[-0.13,-5.0]],
[[-0.47,-8.6],[-0.4,-9.9],[-0.3,-11.1],[-0.228,-12.7],[-0.2,-11.5],[-0.17,-9.0],[-0.13,-5.6]],
[[-0.47,-9.2],[-0.4,-10.8],[-0.3,-12.6],[-0.235,-14.6],[-0.215,-14.6],[-0.19,-12.0],[-0.13,-6.5]],
[[-0.47,-9.5],[-0.4,-11.2],[-0.3,-13.1],[-0.225,-15.8],[-0.2,-14.0],[-0.17,-10.5],[-0.13,-6.8]],
[[-0.47,-9.7],[-0.4,-11.5],[-0.3,-13.4],[-0.215,-16.4],[-0.2,-16.4],[-0.18,-13.0],[-0.13,-7.3]],
[[-0.47,-9.6],[-0.4,-11.4],[-0.3,-13.3],[-0.21,-16.4],[-0.195,-16.4],[-0.175,-13.0],[-0.13,-7.6]],
[[-0.47,-9.9],[-0.4,-11.8],[-0.34,-13.2],[-0.29,-14.0],[-0.26,-12.5],[-0.2,-8.0],[-0.155,-4.7]]
];

// Panel (e)
const eConc=[0,3,5,7,10,12,15];
const eSeries=["S0","S1","S2","S3"];
const eOx=[[664,788,855,880,875,746,746],[900,952,1060,1164,1262,1370,1432],[900,942,1055,1148,1251,1355,1365],[880,942,1045,1133,1241,1313,1313]];
const eRed=[[-955,-850,-930,-1030,-1175,-1330,-1320],[-1175,-1225,-1330,-1430,-1665,-1720,-1150],[-1225,-1320,-1510,-1580,-1690,-1780,-1330],[-1250,-1300,-1525,-1665,-1725,-1725,-1460]];
const eFitX=[0,15];
const eOxFit=[[777,808],[890,1448],[890,1417],[880,1397]];
const eRedFit=[[-824,-1340],[-1252,-1536],[-1340,-1650],[-1355,-1700]];

// ---------------- STYLES ----------------
const cvColors=["#1a1a1a","#ff1a1a","#1a1aff","#ff22ff","#109a10","#ff9a1a","#0e9a9a"];
const fColors=["#1a1a1a","#ff1a1a","#1a1aff","#ff22ff","#109a10","#16168a"];
const eFill=["#111","#ff1a1a","#2020ff","#ff33ff"];
const eOpen=["#888","#ff6a6a","#5a5aff","#ff66ff"];

const svg=d3.select("#chart");
const defs=svg.append("defs");
svg.append("rect").attr("width",718).attr("height",814).attr("fill","#fff");
const smooth=d3.line().curve(d3.curveCatmullRom.alpha(0.5));
const straight=d3.line();

function yTitle(g,x,y,fs){
  const t=g.append("text").attr("transform",`translate(${x},${y}) rotate(-90)`).attr("text-anchor","middle").style("font-size",fs+"px");
  t.append("tspan").text("Current density J (µA/cm");
  t.append("tspan").attr("dy",-fs*0.38).style("font-size",(fs*0.62)+"px").text("2");
  t.append("tspan").attr("dy",fs*0.38).text(")");
}
function supText(g,x,y,fs,main,sup,tail,anchor){
  const t=g.append("text").attr("x",x).attr("y",y).attr("text-anchor",anchor||"start").style("font-size",fs+"px");
  t.append("tspan").text(main);
  t.append("tspan").attr("dy",-fs*0.38).style("font-size",(fs*0.65)+"px").text(sup);
  t.append("tspan").attr("dy",fs*0.38).text(tail);
  return t;
}

function drawMain(o){
  const x=d3.scaleLinear().domain(o.xd).range([o.l,o.r]);
  const y=d3.scaleLinear().domain(o.yd).range([o.b,o.t]);
  const g=svg.append("g");
  const cid="clip_"+o.id;
  defs.append("clipPath").attr("id",cid).append("rect").attr("x",o.l).attr("y",o.t).attr("width",o.r-o.l).attr("height",o.b-o.t);
  g.append("g").attr("transform",`translate(0,${o.b})`)
    .call(d3.axisBottom(x).tickValues(o.xTicks).tickFormat(o.xFmt).tickSize(4).tickPadding(o.xPad));
  g.append("g").attr("transform",`translate(0,${o.b})`).call(d3.axisBottom(x).tickValues(o.xMinor).tickFormat("").tickSize(2));
  g.append("g").attr("transform",`translate(${o.l},0)`)
    .call(d3.axisLeft(y).tickValues(o.yTicks).tickFormat(d=>String(d)).tickSize(4).tickPadding(2));
  g.append("g").attr("transform",`translate(${o.l},0)`).call(d3.axisLeft(y).tickValues(o.yMinor).tickFormat("").tickSize(2));
  g.selectAll(".domain").remove();
  g.selectAll(".tick line").attr("stroke","#1a1a1a").attr("stroke-width",1.2);
  g.selectAll(".tick text").style("font-size",o.tickFs+"px").attr("fill","#1a1a1a");
  g.append("rect").attr("x",o.l).attr("y",o.t).attr("width",o.r-o.l).attr("height",o.b-o.t)
    .attr("fill","none").attr("stroke","#1a1a1a").attr("stroke-width",1.5);
  const line=smooth.x(d=>x(d[0])).y(d=>y(d[1]));
  if(o.loops){
    const cg=g.append("g").attr("clip-path",`url(#${cid})`);
    o.loops.forEach((pts,i)=>{
      cg.append("path").attr("d",line(pts)).attr("fill","none")
        .attr("stroke",o.colors[i]).attr("stroke-width",1.8)
        .attr("stroke-dasharray",i===0?"2,1.6":null).attr("stroke-linejoin","round");
    });
  }
  g.append("text").attr("x",(o.l+o.r)/2).attr("y",o.xtY).attr("text-anchor","middle").style("font-size",o.xtFs+"px").text(o.xTitle);
  yTitle(g,o.ytX,(o.t+o.b)/2,o.ytFs);
  return {x,y,g};
}

function drawInset(o){
  const x=d3.scaleLinear().domain(o.xd).range([o.l,o.r]);
  const y=d3.scaleLinear().domain(o.yd).range([o.b,o.t]);
  const g=svg.append("g");
  const cid="clip_"+o.id;
  defs.append("clipPath").attr("id",cid).append("rect").attr("x",o.l).attr("y",o.t).attr("width",o.r-o.l).attr("height",o.b-o.t);
  g.append("rect").attr("x",o.l).attr("y",o.t).attr("width",o.r-o.l).attr("height",o.b-o.t).attr("fill","#fff");
  const cg=g.append("g").attr("clip-path",`url(#${cid})`);
  const line=straight.x(d=>x(d[0])).y(d=>y(d[1]));
  o.lines.forEach((pts,i)=>{
    cg.append("path").attr("d",line(pts)).attr("fill","none").attr("stroke",cvColors[i]).attr("stroke-width",1.3);
  });
  g.append("g").attr("transform",`translate(0,${o.b})`)
    .call(d3.axisBottom(x).tickValues(o.xTicks).tickFormat(o.xFmt).tickSize(-3).tickPadding(2));
  g.append("g").attr("transform",`translate(${o.l},0)`)
    .call(d3.axisLeft(y).tickValues(o.yTicks).tickFormat(d=>String(d)).tickSize(-3).tickPadding(2));
  g.selectAll(".domain").remove();
  g.selectAll(".tick line").attr("stroke","#1a1a1a");
  g.selectAll(".tick text").style("font-size","8.5px").attr("fill","#1a1a1a");
  g.append("rect").attr("x",o.l).attr("y",o.t).attr("width",o.r-o.l).attr("height",o.b-o.t)
    .attr("fill","none").attr("stroke","#1a1a1a").attr("stroke-width",1.1);
  g.append("text").attr("x",(o.l+o.r)/2).attr("y",o.b+19).attr("text-anchor","middle").style("font-size","10.5px").text("Potential (V)");
  const t=g.append("text").attr("transform",`translate(${o.l-o.ytOff},${(o.t+o.b)/2}) rotate(-90)`).attr("text-anchor","middle").style("font-size","10px");
  t.append("tspan").text("J (A/m");
  t.append("tspan").attr("dy",-4).style("font-size","7px").text("2");
  t.append("tspan").attr("dy",4).text(")");
}

function legend(items,colors,x0,x1,tx,y0,dy,fs){
  const g=svg.append("g");
  items.forEach((n,i)=>{
    const yy=y0+i*dy;
    g.append("line").attr("x1",x0).attr("x2",x1).attr("y1",yy).attr("y2",yy)
      .attr("stroke",colors[i]).attr("stroke-width",i===0?2:2.6).attr("stroke-dasharray",i===0?"2,1.6":null);
    g.append("text").attr("x",tx).attr("y",yy).attr("dy","0.35em").style("font-size",fs+"px").text(n);
  });
}

const f2=d=>d.toFixed(2), f1=d=>d.toFixed(1);
const cvMinorX=d3.range(-0.9,1,0.2), cvMinorY=d3.range(-2250,1800,500);

// ---- (a)
drawMain({id:"a",l:46,r:347.7,t:5,b:235.5,xd:[-1,1],yd:[-20,12.7],xTicks:aXTicks,xFmt:f2,xMinor:d3.range(-0.875,1,0.25),
  yTicks:aYTicks,yMinor:d3.range(-17.5,12.6,5),tickFs:12.5,xPad:3,loops:aLoops,colors:cvColors,
  xTitle:"Potential (V)",xtY:272,xtFs:18,ytX:19,ytFs:18});
legend(concNames,cvColors,284,311.7,315,133,15.6,11);
svg.append("text").attr("x",51).attr("y",31).style("font-size","23px").text("(a)");
svg.append("text").attr("x",265).attr("y",23).style("font-size","15px").text("Pure ZnO");

// ---- (b)
drawMain({id:"b",l:411.3,r:705.7,t:3.3,b:231.7,xd:[-1,1],yd:[-2174,1803],xTicks:cvXTicks,xFmt:f1,xMinor:cvMinorX,
  yTicks:cvYTicks,yMinor:cvMinorY,tickFs:12,xPad:4,loops:bLoops,colors:cvColors,
  xTitle:"Potential (V)",xtY:270,xtFs:19,ytX:376,ytFs:17.5});
drawInset({id:"bt",l:436.7,r:535,t:8,b:80,xd:[-0.034,0.1546],yd:[5.57,14.86],xTicks:insTopX,xFmt:f2,yTicks:[6,8,10,12,14],lines:bInsTop,ytOff:14});
drawInset({id:"bb",l:559.3,r:646.7,t:125.7,b:200,xd:[-0.4,-0.145],yd:[-18.05,-8.06],xTicks:insBotX,xFmt:f1,yTicks:[-9,-12,-15],lines:bInsBot,ytOff:16});
legend(concNames,cvColors,650,672.7,676.7,135,13.65,10.5);
svg.append("text").attr("x",424).attr("y",217).style("font-size","24px").text("(b)");
supText(svg,610,24,12,"ZnO-Cr (13x10","17",")");

// ---- (c)
drawMain({id:"c",l:58.3,r:350.7,t:276.7,b:511.7,xd:[-1,1],yd:[-2320,1760],xTicks:cvXTicks,xFmt:f1,xMinor:cvMinorX,
  yTicks:cvYTicks,yMinor:cvMinorY,tickFs:11,xPad:1,loops:cLoops,colors:cvColors,
  xTitle:"Potential (V)",xtY:542.5,xtFs:16.5,ytX:21,ytFs:19});
drawInset({id:"ct",l:84.3,r:183.3,t:280,b:356,xd:[-0.052,0.209],yd:[4.17,14.36],xTicks:insTopX,xFmt:f2,yTicks:[6,8,10,12,14],lines:cInsTop,ytOff:14});
drawInset({id:"cb",l:205,r:288.3,t:402.3,b:482.3,xd:[-0.416,-0.152],yd:[-18.8,-5.55],xTicks:insBotX,xFmt:f1,yTicks:[-6,-9,-12,-15,-18],lines:cInsBot,ytOff:16});
legend(concNames,cvColors,290,315,318.3,411.7,14.43,10.5);
svg.append("text").attr("x",67).attr("y",495).style("font-size","24px").text("(c)");
supText(svg,255,295,12.5,"ZnO-Cr (20x10","17",")");

// ---- (d)
drawMain({id:"d",l:413,r:705.7,t:276.7,b:511.7,xd:[-1,1],yd:[-2072,1754],xTicks:cvXTicks,xFmt:f1,xMinor:cvMinorX,
  yTicks:cvYTicks,yMinor:d3.range(-1750,1800,500),tickFs:11,xPad:1,loops:dLoops,colors:cvColors,
  xTitle:"Potential (V)",xtY:542.5,xtFs:16.5,ytX:379,ytFs:19});
drawInset({id:"dt",l:439.3,r:539.3,t:280,b:359.3,xd:[-0.027,0.172],yd:[6.28,13.6],xTicks:insTopX,xFmt:f2,yTicks:[8,10,12],lines:dInsTop,ytOff:14});
drawInset({id:"db",l:560.7,r:630,t:406,b:478.3,xd:[-0.46,-0.135],yd:[-17.07,-4.76],xTicks:insBotX,xFmt:f1,yTicks:[-6,-9,-12,-15],lines:dInsBot,ytOff:16});
legend(concNames,cvColors,645,670,674,411,14.12,10.5);
svg.append("text").attr("x",424).attr("y",495).style("font-size","24px").text("(d)");
supText(svg,610,295,12,"ZnO-Cr (32x10","17",")");

// ---- (e)
const E=drawMain({id:"e",l:58.3,r:350,t:545.5,b:775.7,xd:[-0.37,15.65],yd:[-2010,1562],xTicks:eXTicks,xFmt:d=>String(d),xMinor:d3.range(1.5,15,3),
  yTicks:cvYTicks,yMinor:d3.range(-1750,1600,500),tickFs:12,xPad:3,loops:null,colors:null,
  xTitle:"Myoglobin concenteration (nM)",xtY:808.5,xtFs:16,ytX:20,ytFs:19});
(function(){
  const x=E.x,y=E.y,g=svg.append("g");
  const fitLine=d3.line().x(d=>x(d[0])).y(d=>y(d[1]));
  eOxFit.forEach((f,i)=>g.append("path").attr("d",fitLine([[eFitX[0],f[0]],[eFitX[1],f[1]]])).attr("stroke",i===0?"#1a1a1a":eFill[i]).attr("stroke-width",1.8).attr("stroke-dasharray","2,1.6").attr("fill","none"));
  eRedFit.forEach((f,i)=>g.append("path").attr("d",fitLine([[eFitX[0],f[0]],[eFitX[1],f[1]]])).attr("stroke",i===0?"#1a1a1a":eFill[i]).attr("stroke-width",1.8).attr("stroke-dasharray","2,1.6").attr("fill","none"));
  const shapes=[d3.symbolSquare,d3.symbolTriangle,d3.symbolTriangle,d3.symbolTriangle];
  const rot=[0,90,0,-90];
  eOx.forEach((vals,s)=>vals.forEach((v,k)=>{
    g.append("path").attr("d",d3.symbol().type(shapes[s]).size(s===0?42:48)())
      .attr("transform",`translate(${x(eConc[k])},${y(v)}) rotate(${rot[s]})`).attr("fill",eFill[s]);
  }));
  eRed.forEach((vals,s)=>vals.forEach((v,k)=>{
    g.append("path").attr("d",d3.symbol().type(shapes[s]).size(s===0?46:52)())
      .attr("transform",`translate(${x(eConc[k])},${y(v)}) rotate(${rot[s]})`).attr("fill","none").attr("stroke",eOpen[s]).attr("stroke-width",1.2);
  }));
  eSeries.forEach((n,i)=>g.append("text").attr("x",61).attr("y",629+i*14.7).style("font-size","13px").style("fill",i===0?"#1a1a1a":eFill[i]).text(n));
  g.append("text").attr("x",262).attr("y",614).style("font-size","16px").style("fill","#ff2020").text("Oxidation");
  g.append("text").attr("x",257).attr("y",715).style("font-size","16px").style("fill","#8a8a00").text("Reduction");
  g.append("text").attr("x",63).attr("y",770).style("font-size","25px").text("(e)");
})();

// ---- (f)
drawMain({id:"f",l:413,r:703,t:546.7,b:773.5,xd:[-1,1],yd:[-1500,1287],xTicks:aXTicks,xFmt:f2,xMinor:d3.range(-0.875,1,0.25),
  yTicks:fYTicks,yMinor:d3.range(-1250,1200,500),tickFs:12.5,xPad:2,loops:fLoops,colors:fColors,
  xTitle:"Potential (V)",xtY:807.5,xtFs:16.5,ytX:372,ytFs:19});
legend(fNames,fColors,580.7,604.7,609.7,689,14.2,11.5);
svg.append("text").attr("x",429).attr("y",766).style("font-size","24px").text("(f)");
</script>
</body></html>
